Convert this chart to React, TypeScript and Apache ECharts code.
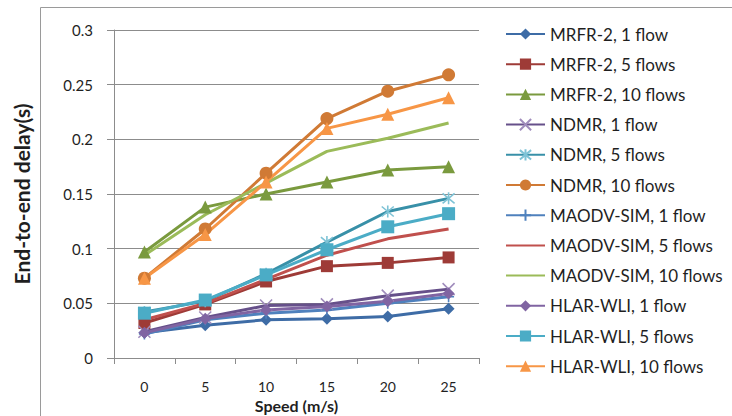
import React, { useEffect, useRef } from "react";
import * as echarts from "echarts";

const speeds = ["0", "5", "10", "15", "20", "25"];
const yTicks = { min: 0, max: 0.3, interval: 0.05 };

const mrfr1 = [0.023, 0.030, 0.035, 0.036, 0.038, 0.045];
const mrfr5 = [0.032, 0.049, 0.070, 0.084, 0.087, 0.092];
const mrfr10 = [0.097, 0.138, 0.150, 0.161, 0.172, 0.175];
const ndmr1 = [0.024, 0.037, 0.048, 0.049, 0.057, 0.063];
const ndmr5 = [0.042, 0.052, 0.077, 0.106, 0.134, 0.146];
const ndmr10 = [0.073, 0.118, 0.169, 0.219, 0.244, 0.259];
const maodv1 = [0.022, 0.035, 0.041, 0.044, 0.050, 0.056];
const maodv5 = [0.035, 0.050, 0.072, 0.094, 0.109, 0.118];
const maodv10 = [0.094, 0.131, 0.160, 0.189, 0.201, 0.215];
const hlar1 = [0.023, 0.036, 0.044, 0.047, 0.052, 0.059];
const hlar5 = [0.041, 0.053, 0.076, 0.099, 0.120, 0.132];
const hlar10 = [0.073, 0.113, 0.161, 0.210, 0.223, 0.238];

const X_PATH = "path://M0 0L10 10M10 0L0 10";
const STAR_PATH = "path://M0 0L10 10M10 0L0 10M5 -1L5 11";
const PLUS_PATH = "path://M5 0L5 10M0 5L10 5";

type Def = {
  name: string;
  data: number[];
  color: string;
  symbol: string;
  size: number;
  stroke?: string;
};

const defs: Def[] = [
  { name: "MRFR-2, 1 flow", data: mrfr1, color: "#3e6ca6", symbol: "diamond", size: 12 },
  { name: "MRFR-2, 5 flows", data: mrfr5, color: "#9e3b37", symbol: "rect", size: 12 },
  { name: "MRFR-2, 10 flows", data: mrfr10, color: "#7a9a3e", symbol: "triangle", size: 13 },
  { name: "NDMR, 1 flow", data: ndmr1, color: "#66508a", symbol: X_PATH, size: 12, stroke: "#a08cbc" },
  { name: "NDMR, 5 flows", data: ndmr5, color: "#3890a8", symbol: STAR_PATH, size: 12, stroke: "#7ec3d6" },
  { name: "NDMR, 10 flows", data: ndmr10, color: "#d07a35", symbol: "circle", size: 13 },
  { name: "MAODV-SIM, 1 flow", data: maodv1, color: "#4f81bd", symbol: PLUS_PATH, size: 11, stroke: "#4f81bd" },
  { name: "MAODV-SIM, 5 flows", data: maodv5, color: "#c0504d", symbol: "none", size: 0 },
  { name: "MAODV-SIM, 10 flows", data: maodv10, color: "#9bbb59", symbol: "none", size: 0 },
  { name: "HLAR-WLI, 1 flow", data: hlar1, color: "#8064a2", symbol: "diamond", size: 12 },
  { name: "HLAR-WLI, 5 flows", data: hlar5, color: "#4bacc6", symbol: "rect", size: 13 },
  { name: "HLAR-WLI, 10 flows", data: hlar10, color: "#f79646", symbol: "triangle", size: 13 },
];

const FONT = "Lato";
const TXT = "#1f1f1f";
const GRIDC = "#8c8c8c";
const CLEAR = "rgba(0,0,0,0)";

export default function App() {
  const ref = useRef<HTMLDivElement>(null);
  useEffect(() => {
    if (!ref.current) return;
    const chart = echarts.init(ref.current, undefined, { renderer: "svg" });
    const series = defs.map((d) => ({
      name: d.name,
      type: "line",
      data: d.data,
      symbol: d.symbol === "none" ? "circle" : d.symbol,
      symbolSize: d.size,
      showSymbol: d.symbol !== "none",
      lineStyle: { color: d.color, width: 3 },
      itemStyle:
        d.symbol === "none"
          ? { color: CLEAR, borderColor: CLEAR, borderWidth: 0 }
          : d.stroke
          ? { color: "none", borderColor: d.stroke, borderWidth: 1.6 }
          : { color: d.color, borderColor: d.color, borderWidth: 0 },
      emphasis: { disabled: true },
    }));
    chart.setOption({
      animation: false,
      textStyle: { fontFamily: FONT },
      grid: {
        left: 114,
        right: 253,
        top: 30,
        bottom: 58,
        containLabel: false,
        outerBoundsMode: "none",
      },
      graphic: [
        {
          type: "rect",
          shape: { x: 40.5, y: 7.5, width: 900, height: 600 },
          style: { fill: "none", stroke: "#9a9a9a", lineWidth: 1 },
          silent: true,
        },
      ],
      legend: {
        orient: "vertical",
        left: 500,
        top: 20.5,
        itemWidth: 39,
        itemHeight: 14,
        itemGap: 13.2,
        textStyle: { fontFamily: FONT, fontSize: 17, color: TXT },
        data: defs.map((d) => d.name),
        selectedMode: false,
      },
      xAxis: {
        type: "category",
        data: speeds,
        boundaryGap: true,
        name: "Speed (m/s)",
        nameLocation: "middle",
        nameGap: 39,
        nameMoveOverlap: false,
        nameTextStyle: { fontFamily: FONT, fontSize: 16, fontWeight: "bold", color: TXT },
        axisLine: { lineStyle: { color: GRIDC, width: 1 } },
        axisTick: { show: true, length: 6, lineStyle: { color: GRIDC } },
        axisLabel: { margin: 21, fontSize: 14, color: TXT, fontFamily: FONT },
        splitLine: { show: false },
      },
      yAxis: {
        type: "value",
        min: yTicks.min,
        max: yTicks.max,
        interval: yTicks.interval,
        name: "End-to-end delay(s)",
        nameLocation: "middle",
        nameGap: 82,
        nameMoveOverlap: false,
        nameTextStyle: { fontFamily: FONT, fontSize: 21, fontWeight: "bold", color: TXT },
        axisLine: { show: true, lineStyle: { color: GRIDC, width: 1 } },
        axisTick: { show: true, length: 7, lineStyle: { color: GRIDC } },
        axisLabel: { margin: 21, fontSize: 15, color: TXT, fontFamily: FONT },
        splitLine: { show: true, lineStyle: { color: GRIDC, width: 1 } },
      },
      series,
    });
    return () => chart.dispose();
  }, []);
  return (
    <div
      ref={ref}
      style={{ position: "fixed", left: 0, top: 0, width: 732, height: 416, background: "#fff" }}
    />
  );
}
